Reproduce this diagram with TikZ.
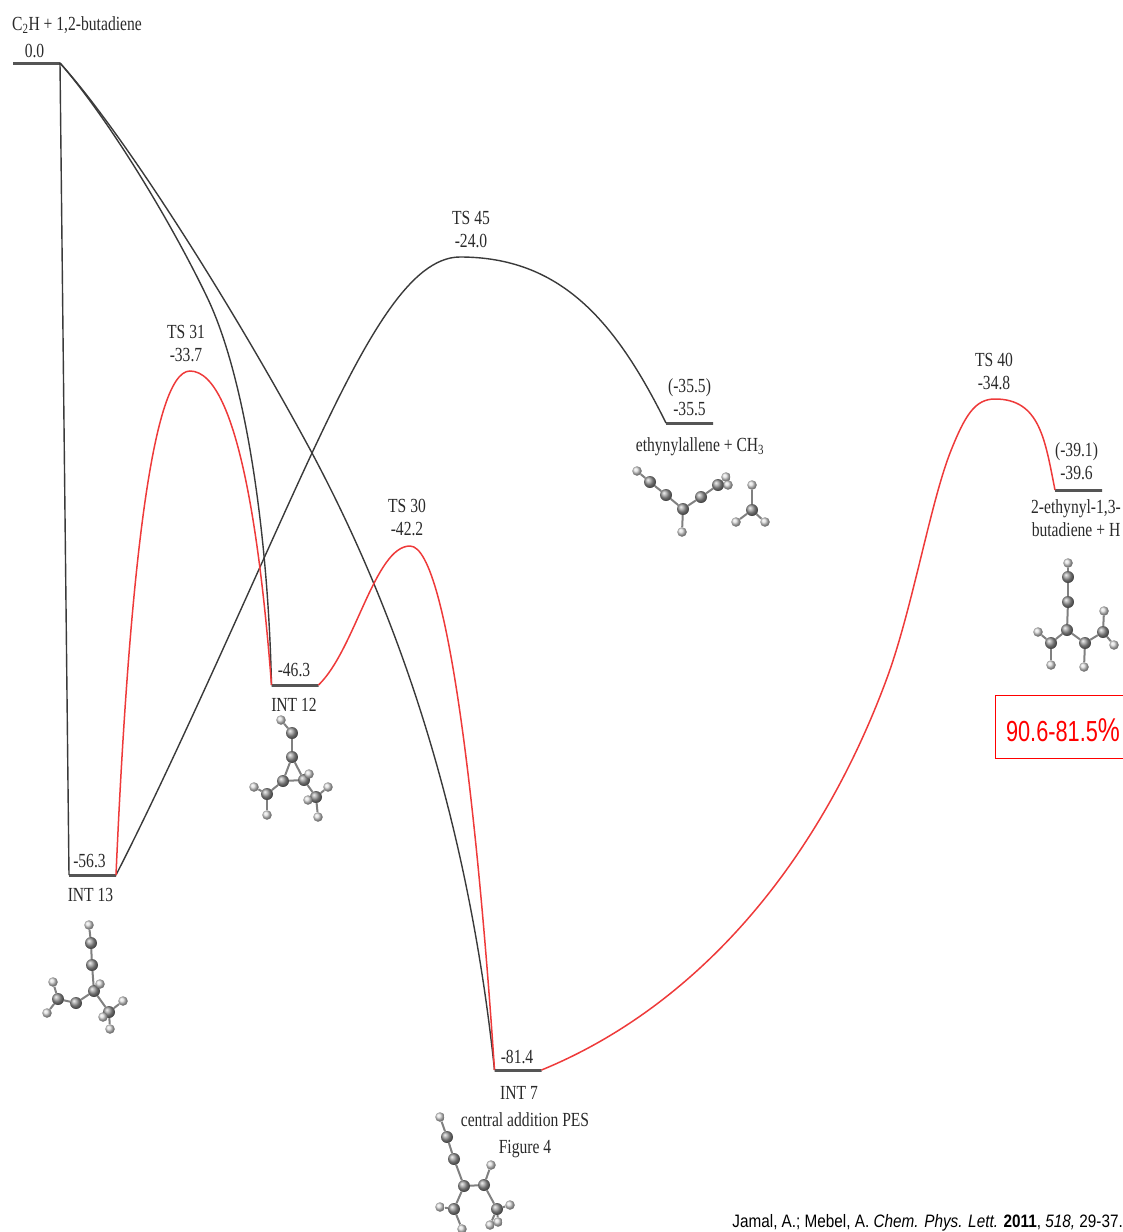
\documentclass[tikz,border=0pt]{standalone}
\usepackage{fontspec}
\usetikzlibrary{positioning,backgrounds}
\newfontfamily\labelfont[FakeStretch=.78]{Liberation Serif}
\newfontfamily\notefont[FakeStretch=.85]{Liberation Sans}
\newfontfamily\yieldfont[FakeStretch=.75]{Liberation Sans}
\definecolor{inkgray}{HTML}{2A2A2A}
\definecolor{linegray}{HTML}{3A3A3A}
\definecolor{levelgray}{HTML}{555555}
\definecolor{pathred}{HTML}{EE3A3A}
\newcommand{\molecule}[4]{%
 \foreach \n/\x/\y in {#2} {\node[carbon] (#1\n) at (\x,\y) {};}
 \foreach \n/\x/\y in {#3} {\node[hydrogen] (#1\n) at (\x,\y) {};}
 \begin{pgfonlayer}{background}
 \foreach \a/\b in {#4} {\draw[bond] (#1\a) -- (#1\b);}
 \end{pgfonlayer}}

\begin{document}
\begin{tikzpicture}[x=1pt,y=-1pt,node distance=3pt,
 every node/.style={text=inkgray,font=\labelfont\fontsize{20}{23}\selectfont,align=center,inner sep=0pt},
 level/.style={draw=levelgray,line width=3pt,minimum width=47pt,minimum height=0pt,outer sep=0pt},
 path/.style={line width=1.4pt,draw=linegray},
 redpath/.style={line width=1.5pt,draw=pathred},
 carbon/.style={circle,minimum size=12pt,shading=ball,ball color=gray!80},
 hydrogen/.style={circle,minimum size=9.5pt,shading=ball,ball color=gray!30},
 bond/.style={line width=2pt,draw=gray}]
\useasboundingbox (0,0) rectangle (1123,1232);

\coordinate (ts31) at (190,371);
\coordinate (ts30) at (410,546);
\coordinate (ts45) at (460,257);
\coordinate (ts40) at (995,399);
\coordinate (cross) at (312,453);
\node[level] (start) at (36.5,63) {};
\node[level] (int13) at (92.5,875) {};
\node[level] (int12) at (295,685) {};
\node[level] (int7) at (518,1070) {};
\node[level] (allene) at (689.5,423) {};
\node[level] (product) at (1078.5,490) {};

\draw[path] (start.east) -- (int13.west);
\draw[path] (start.east) .. controls (108,118) and (170,220) .. (207,297)
 .. controls (245,376) and (268,530) .. (int12.west);
\draw[path] (start.east) .. controls (125,135) and (235,310) .. (cross)
 .. controls (385,590) and (465,790) .. (int7.west);
\draw[path] (int13.east) .. controls (180,750) and (262,560) .. (cross)
 .. controls (365,340) and (410,257) .. (ts45)
 .. controls (560,257) and (615,320) .. (allene.west);
\draw[redpath] (int13.east) .. controls (128,600) and (150,371) .. (ts31)
 .. controls (240,371) and (262,560) .. (int12.west);
\draw[redpath] (int12.east) .. controls (355,650) and (375,546) .. (ts30)
 .. controls (450,546) and (480,850) .. (int7.west);
\draw[redpath] (int7.east) .. controls (700,1005) and (820,860) .. (887,678)
 .. controls (912,610) and (930,505) .. (950,453)
 .. controls (965,415) and (975,399) .. (ts40)
 .. controls (1040,399) and (1045,440) .. (product.west);

\node[above=5pt of start,xshift=-2pt] (startval) {0.0};
\node at (77,25) (startname) {C\textsubscript{2}H + 1,2-butadiene};
\node[above=7pt of int13,xshift=-3pt] (val13) {-56.3};
\node[below=13pt of int13,xshift=-2pt] (name13) {INT 13};
\node[above=8pt of int12,xshift=-1pt] (val12) {-46.3};
\node[below=13pt of int12,xshift=-1pt] (name12) {INT 12};
\node[above=6pt of int7,xshift=-1pt] (val7) {-81.4};
\node[below=16pt of int7,xshift=1pt] (name7) {INT 7};
\node[below=13pt of name7,xshift=6pt,font=\labelfont\fontsize{20}{27}\selectfont] (note7) {central addition PES\\Figure 4};
\node[above=7pt of allene] (valallene) {(-35.5)\\-35.5};
\node at (700,447) (nameallene) {ethynylallene + CH\textsubscript{3}};
\node[above=10pt of product,xshift=-2pt] (valproduct) {(-39.1)\\-39.6};
\node at (1076,518) (nameproduct) {2-ethynyl-1,3-\\butadiene + H};
\node at (186,344) (label31) {TS 31\\-33.7};
\node at (407,517) (label30) {TS 30\\-42.2};
\node at (471,230) (label45) {TS 45\\-24.0};
\node at (994,371) (label40) {TS 40\\-34.8};

\molecule{p}{a/91/943,b/92/965,c/94/991,d/76/1003,e/58/999,f/109/1012}
 {g/89/925,h/53/982,i/47/1013,j/100/984,k/123/1001,l/103/1017,m/110/1029}
 {g/a,a/b,b/c,c/d,d/e,e/h,e/i,c/j,c/f,f/k,f/l,f/m}
\molecule{q}{a/292/733,b/292/757,c/283/781,d/304/780,e/267/794,f/316/797}
 {g/281/720,h/309/774,i/254/787,j/267/815,k/328/787,l/308/800,m/318/817}
 {g/a,a/b,b/c,b/d,c/d,c/e,e/i,e/j,d/h,d/f,f/k,f/l,f/m}
\molecule{r}{a/447/1137,b/454/1159,c/464/1186,d/484/1185,e/454/1209,f/497/1209}
 {g/440/1117,h/491/1165,i/440/1207,j/462/1229,k/510/1205,l/498/1222,m/490/1225}
 {g/a,a/b,b/c,c/d,d/h,c/e,e/i,e/j,d/f,f/k,f/l,f/m}
\molecule{s}{a/650/482,b/666/495,c/683/509,d/701/497,e/718/485,f/752/510}
 {g/637/471,h/682/532,i/726/477,j/728/485,k/752/485,l/736/522,m/765/522}
 {g/a,a/b,b/c,c/h,c/d,d/e,e/i,e/j,f/k,f/l,f/m}
\molecule{t}{a/1068/577,b/1068/602,c/1067/630,d/1051/643,e/1085/643,f/1103/632}
 {g/1068/563,h/1038/632,i/1051/665,j/1084/667,k/1104/611,l/1114/645}
 {g/a,a/b,b/c,c/d,d/h,d/i,c/e,e/j,e/f,f/k,f/l}

\node[draw=red,line width=1pt,minimum width=136pt,minimum height=63pt] (yieldbox) at (1063,726.5) {};
\node[text=red,font=\yieldfont\fontsize{29}{32}\selectfont] (yield) at (1063,730)
 {90.6-81.5{\fontsize{33}{32}\selectfont\%}};
\node[anchor=base east,text=black,font=\notefont\fontsize{18}{20}\selectfont] (source) at (1123,1227)
 {Jamal, A.; Mebel, A. \textit{Chem. Phys. Lett.} \textbf{2011}, \textit{518,} 29-37.};
\end{tikzpicture}
\end{document}
